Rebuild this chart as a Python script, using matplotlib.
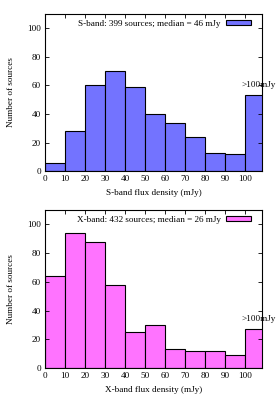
import matplotlib
matplotlib.use("Agg")
import matplotlib.pyplot as plt
from matplotlib.patches import Patch

plt.rcParams['font.family'] = ['Liberation Serif', 'DejaVu Serif']
plt.rcParams['font.size'] = 6.6

bin_starts = [0, 10, 20, 30, 40, 50, 60, 70, 80, 90, 100]
s_counts = [6, 28, 60, 70, 59, 40, 34, 24, 13, 12, 53]
x_counts = [64, 94, 88, 58, 25, 30, 13, 12, 12, 9, 27]
x_ticks = [0, 10, 20, 30, 40, 50, 60, 70, 80, 90, 100]
y_ticks = [0, 20, 40, 60, 80, 100]

panels = [
    dict(counts=s_counts, color='#7373ff', legend='S-band: 399 sources; median = 46 mJy',
         xlabel='S-band flux density (mJy)', note_y=60),
    dict(counts=x_counts, color='#ff73ff', legend='X-band: 432 sources; median = 26 mJy',
         xlabel='X-band flux density (mJy)', note_y=34),
]

fig = plt.figure(figsize=(2.78, 3.97), dpi=100)
rects = [[0.163, 0.569, 0.78, 0.396], [0.163, 0.073, 0.78, 0.398]]

for rect, p in zip(rects, panels):
    ax = fig.add_axes(rect)
    ax.bar(bin_starts, p['counts'], width=10, align='edge', color=p['color'],
           edgecolor='black', linewidth=0.8)
    ax.set_xlim(0, 108.5)
    ax.set_ylim(0, 110)
    ax.set_xticks(x_ticks)
    ax.set_yticks(y_ticks)
    ax.tick_params(direction='in', top=True, right=True, length=3, width=0.6,
                   labelsize=6.6, pad=3)
    for s in ax.spines.values():
        s.set_linewidth(0.8)
    ax.set_xlabel(p['xlabel'], fontsize=6.6, labelpad=4)
    ax.set_ylabel('Number of sources', fontsize=6.6, labelpad=9)
    handle = Patch(facecolor=p['color'], edgecolor='black', linewidth=0.8)
    ax.legend(handles=[handle], labels=[p['legend']], loc='upper right', frameon=False,
              markerfirst=False, handlelength=2.7, handleheight=0.45, handletextpad=0.6,
              borderaxespad=0, borderpad=0, bbox_to_anchor=(0.949, 0.962), fontsize=6.6)
    ax.text(98, p['note_y'], '>100mJy', ha='left', va='center', fontsize=6.6, clip_on=False)

fig.savefig('out.png', dpi=100)
